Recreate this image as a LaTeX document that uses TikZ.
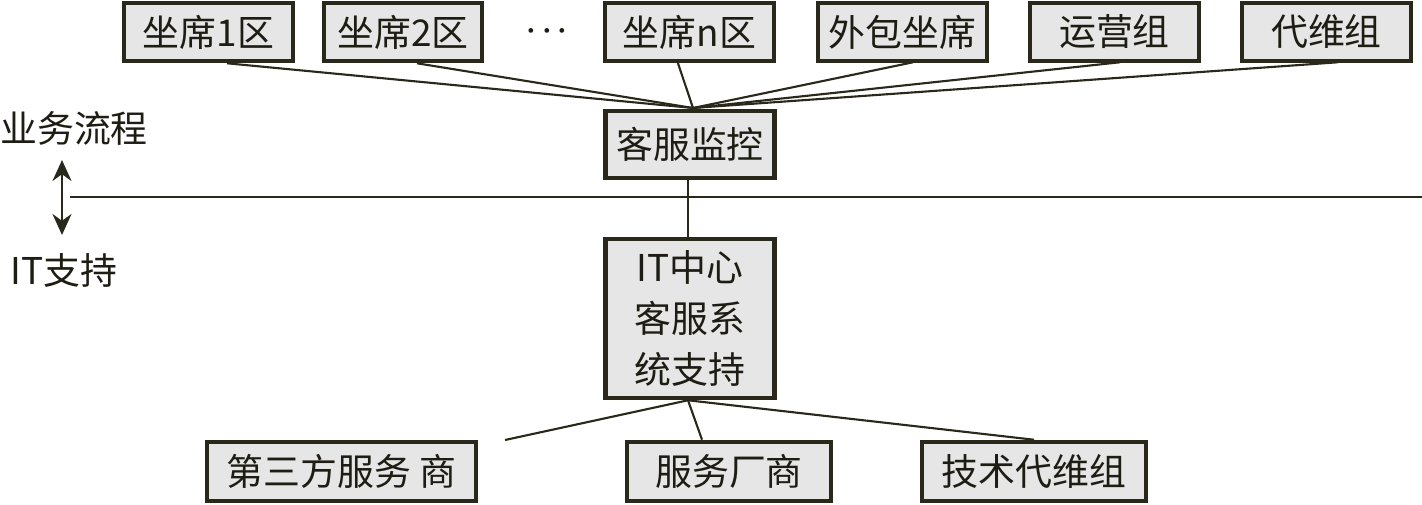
\documentclass[tikz,border=0pt]{standalone}
\usepackage{tikz}
\usetikzlibrary{arrows.meta,positioning}
\usepackage{xcolor}
\usepackage{fontspec}
\setmainfont{Noto Sans CJK SC}
\definecolor{frame}{HTML}{2A281A}
\definecolor{boxfill}{HTML}{E6E6E6}
\definecolor{ink}{HTML}{1E1D14}

\begin{document}
\begin{tikzpicture}[
  x=0.02cm, y=-0.02cm,
  box/.style={draw=frame,line width=2.6pt,fill=boxfill,minimum width=#1,inner sep=0pt,align=center,text=ink,font=\fontsize{21}{29}\selectfont},
  box/.default=3.38cm,
  link/.style={draw=frame,line width=1.2pt},
  tag/.style={inner sep=0pt,text=ink,font=\fontsize{21}{25}\selectfont},
]
  \useasboundingbox (0,0) rectangle (1422,504);

  % business side
  \node[box,minimum height=1.16cm] (zx1) at (208.5,32) {坐席1区};
  \node[box=3.16cm,minimum height=1.16cm] (zx2) at (403,32) {坐席2区};
  \node[tag,font=\fontsize{19}{19}\selectfont\boldmath] (dots) at (547,31) {$\cdots$};
  \node[box,minimum height=1.16cm] (zxn) at (689.5,32) {坐席n区};
  \node[box,minimum height=1.16cm] (wb) at (902.5,32) {外包坐席};
  \node[box,minimum height=1.16cm] (yy) at (1114.5,32) {运营组};
  \node[box,minimum height=1.16cm] (dw) at (1326.5,32) {代维组};
  \node[box,minimum height=1.34cm] (jk) at (690,144.5) {客服监控};

  % IT side
  \node[box,minimum height=3.18cm] (it) at (690,318.5) {IT中心\\客服系\\统支持};
  \node[box=5.38cm,minimum height=1.18cm] (dsf) at (341.5,471.5) {第三方服务 商};
  \node[box=4.08cm,minimum height=1.18cm] (cs) at (729,471.5) {服务厂商};
  \node[box=4.48cm,minimum height=1.18cm] (jsdw) at (1034,471.5) {技术代维组};

  % layer labels
  \node[tag] (yw) at (74,128) {业务流程};
  \node[tag] (its) at (64,270) {IT支持};
  \coordinate (up) at (62,160);
  \coordinate (down) at (62,235);
  \draw[{Stealth[length=0.42cm,width=0.38cm]}-{Stealth[length=0.42cm,width=0.38cm]},line width=1.3pt,frame] (up) -- (down);
  \coordinate (divl) at (70,197);
  \coordinate (divr) at (1422,197);
  \draw[link] (divl) -- (divr);

  \coordinate (hub) at (693,108);
  \draw[link] ([xshift=0.37cm]zx1.south) -- (hub);
  \draw[link] ([xshift=0.28cm]zx2.south) -- (hub);
  \draw[link] ([xshift=-0.25cm,yshift=0.06cm]zxn.south) -- (hub);
  \draw[link] ([xshift=0.21cm,yshift=0.02cm]wb.south) -- (hub);
  \draw[link] ([xshift=0.11cm,yshift=0.02cm]yy.south) -- (hub);
  \draw[link] ([xshift=0.23cm,yshift=0.02cm]dw.south) -- (hub);
  \draw[link] ([xshift=-0.04cm]jk.south) -- ([xshift=-0.04cm]it.north);

  \coordinate (loose) at (505,440);
  \draw[link] ([xshift=-0.04cm]it.south) -- (loose);
  \draw[link] ([xshift=-0.04cm]it.south) -- ([xshift=-0.54cm]cs.north);
  \draw[link] ([xshift=-0.04cm]it.south) -- (jsdw.north);
\end{tikzpicture}
\end{document}
